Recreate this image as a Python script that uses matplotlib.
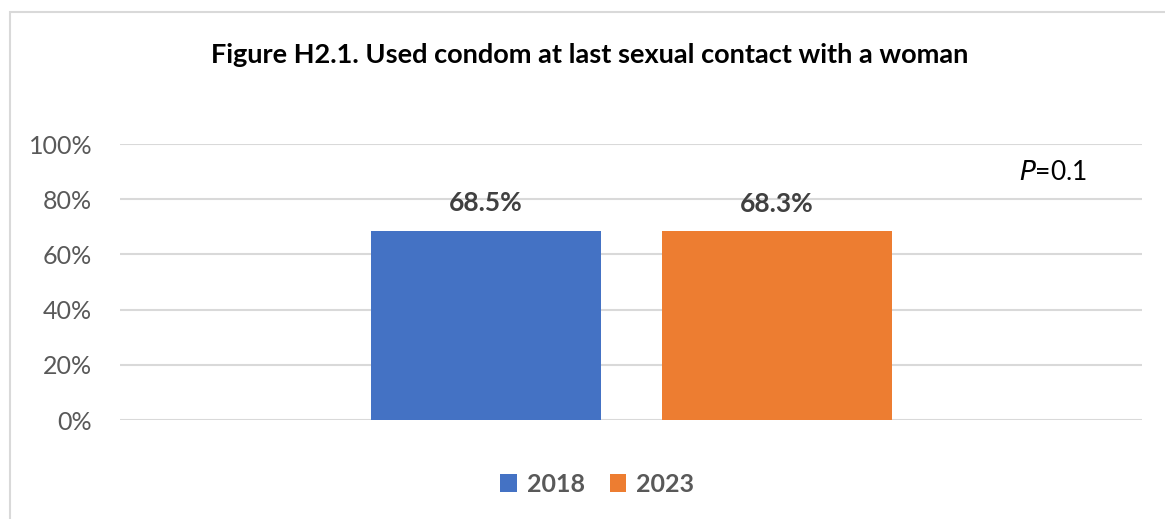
import matplotlib
matplotlib.use("Agg")
import matplotlib.pyplot as plt
from matplotlib.patches import Rectangle, Patch
from matplotlib.ticker import FuncFormatter

plt.rcParams['font.family'] = ['Lato', 'DejaVu Sans']

# Data
years = ["2018", "2023"]
values = [68.5, 68.3]
colors = ["#4472C4", "#ED7D31"]
yticks = [0, 20, 40, 60, 80, 100]
title = "Figure H2.1. Used condom at last sexual contact with a woman"
p_note = "0.1"

W, H = 1165, 519
fig = plt.figure(figsize=(W / 100, H / 100), dpi=100)

# Outer chart frame (only top/left edges fall inside the canvas)
fig.patches.append(Rectangle((10 / W, -0.1), 1.2, 1 - 12 / H + 0.1,
                             transform=fig.transFigure, fill=False,
                             edgecolor="#d9d9d9", linewidth=1.5))

ax = fig.add_axes([120 / W, 1 - 420 / H, (1142 - 120) / W, (420 - 144) / H])
ax.set_xlim(-0.5, 0.5)
ax.set_ylim(0, 100)

offsets = [-0.142, 0.143]
bar_w = 0.225
for off, v, c in zip(offsets, values, colors):
    ax.bar(off, v, width=bar_w, color=c, zorder=3)
    ax.annotate(f"{v:.1f}%", xy=(off, v), xytext=(0, 20), textcoords="offset points",
                ha="center", va="center", fontsize=19, fontweight="bold",
                color="#404040")

ax.set_yticks(yticks)
ax.yaxis.set_major_formatter(FuncFormatter(lambda y, _: f"{y:.0f}%"))
ax.tick_params(axis="y", length=0, labelsize=18, labelcolor="#595959", pad=20)
ax.set_xticks([])
ax.grid(axis="y", color="#d9d9d9", linewidth=1.5, zorder=0)
for s in ax.spines.values():
    s.set_visible(False)

fig.text(590 / W, 1 - 55 / H, title, ha="center", va="center",
         fontsize=19.5, fontweight="bold", color="black")

fig.text(1053 / W, 1 - 172 / H, r"$\mathit{P}$" + "=" + p_note,
         ha="center", va="center", fontsize=19, color="black")

handles = [Patch(facecolor=c, edgecolor="none") for c in colors]
leg = fig.legend(handles, years, loc="center", bbox_to_anchor=(597 / W, 1 - 484 / H),
                 ncol=2, frameon=False, handlelength=0.65, handleheight=0.7,
                 handletextpad=0.4, columnspacing=1.0,
                 prop={"size": 18, "weight": "bold"})
for t in leg.get_texts():
    t.set_color("#595959")

fig.savefig("out.png", dpi=100)
